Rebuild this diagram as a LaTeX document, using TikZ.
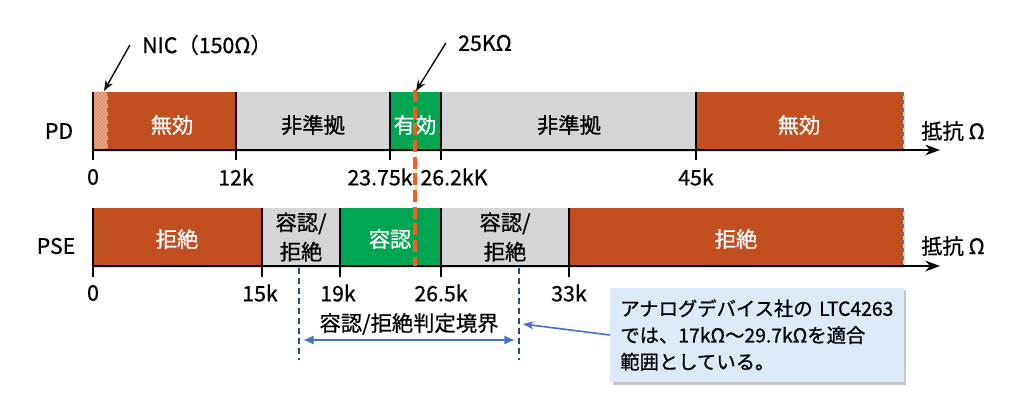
\documentclass[tikz,border=0pt]{standalone}
\usepackage{fontspec}
\setmainfont{Noto Sans CJK JP}[FakeBold=0.7]
\usetikzlibrary{arrows.meta,patterns,shadows}
\definecolor{mukou}{HTML}{C24F1F}
\definecolor{yukou}{HTML}{00A651}
\definecolor{hijun}{HTML}{D5D5D5}
\definecolor{nicfill}{HTML}{F5A57C}
\definecolor{ohm25}{HTML}{FF5A1F}
\definecolor{kyokai}{HTML}{1F4E79}
\definecolor{yajirushi}{HTML}{4472C4}
\definecolor{notefill}{HTML}{DCE9F6}
\tikzset{
  txt/.style={font=\fontsize{16}{22}\selectfont,inner sep=0pt,align=center},
  wtxt/.style={txt,text=white},
  tick/.style={line width=2.2pt},
  axis/.style={line width=2pt,-{Stealth[length=11pt,width=8pt]}},
  edge/.style={black!55,dashed,line width=0.8pt},
  pointer/.style={line width=1pt,-{Stealth[length=8pt,width=6pt]}},
  barshadow/.style={drop shadow={shadow xshift=1.5pt,shadow yshift=-1.5pt,opacity=0.25}}
}

\begin{document}
\begin{tikzpicture}[x=0.75pt,y=-0.75pt]
\useasboundingbox (0,0) rectangle (1024,410);
% PD bar
\fill[hijun,barshadow] (93,92) rectangle (903,150);
\fill[nicfill] (93,92) rectangle (108,150);
\fill[pattern=crosshatch dots,pattern color=black!70] (93,92) rectangle (108,150);
\draw[edge] (108,92) -- (108,150);
\fill[mukou] (108,92) rectangle (236,150);
\fill[yukou] (390,92) rectangle (441,150);
\fill[mukou] (696,92) rectangle (903,150);
\draw[edge] (903,92) -- (903,150);
\node[wtxt] (pdmk1) at (172,125) {無効};
\node[txt] (pdhj1) at (313,125) {非準拠};
\node[wtxt] (pdyk) at (415,125) {有効};
\node[txt] (pdhj2) at (569,125) {非準拠};
\node[wtxt] (pdmk2) at (799,125) {無効};
\draw[axis] (93,150) -- (940,150);
\foreach \x in {93,236,390,441,696} \draw[tick] (\x,92) -- (\x,160);
\node[txt] (pd) at (59,131) {PD};
\node[txt] (pdax) at (953,131) {抵抗 Ω};
\node[txt] (pd0) at (93,177) {0};
\node[txt] (pd12) at (236,177) {12k};
\node[txt] (pd2375) at (380,177) {23.75k};
\node[txt] (pd262) at (454,177) {26.2kK};
\node[txt] (pd45) at (696,177) {45k};
% PSE bar
\fill[hijun,barshadow] (93,208) rectangle (903,266);
\fill[mukou] (93,208) rectangle (262,266);
\fill[yukou] (340,208) rectangle (441,266);
\fill[mukou] (569,208) rectangle (903,266);
\draw[edge] (903,208) -- (903,266);
\node[wtxt] (psekz1) at (177,239) {拒絶};
\node[txt] (psenk1) at (301,237) {容認/\\拒絶};
\node[wtxt] (psenk) at (390,239) {容認};
\node[txt] (psenk2) at (505,237) {容認/\\拒絶};
\node[wtxt] (psekz2) at (736,239) {拒絶};
\draw[axis] (93,266) -- (940,266);
\foreach \x in {93,262,340,441,569} \draw[tick] (\x,208) -- (\x,277);
\node[txt] (pse) at (56,246) {PSE};
\node[txt] (pseax) at (953,246) {抵抗 Ω};
\node[txt] (pse0) at (93,293) {0};
\node[txt] (pse15) at (260,293) {15k};
\node[txt] (pse19) at (338,293) {19k};
\node[txt] (pse265) at (441,293) {26.5k};
\node[txt] (pse33) at (569,293) {33k};
% 25k line and labels
\draw[ohm25,line width=3pt,dash pattern=on 9pt off 3.5pt] (415,90) -- (415,266);
\node[txt] (nic) at (207,45) {NIC（150Ω）};
\coordinate (nictop) at (104,91);
\draw[pointer] (nic.west) ++(-12,0) -- (nictop);
\node[txt] (k25) at (485,43) {25KΩ};
\coordinate (k25top) at (416,91);
\draw[pointer] (k25.west) ++(-12,0) -- (k25top);
% judgement boundary
\draw[kyokai,line width=1.8pt,dash pattern=on 4.5pt off 3pt] (299,268) -- (299,360);
\draw[kyokai,line width=1.8pt,dash pattern=on 4.5pt off 3pt] (519,268) -- (519,360);
\coordinate (bl) at (299,340);
\coordinate (br) at (519,340);
\draw[yajirushi,line width=2pt,{Latex[length=8pt,width=7pt]}-{Latex[length=8pt,width=7pt]},shorten <=3pt,shorten >=3pt] (bl) -- (br);
\node[txt] (kyokai) at (409,324) {容認/拒絶判定境界};
\node[fill=notefill,minimum width=220pt,minimum height=71pt,text width=205pt,align=left,inner sep=0pt,
  font=\fontsize{14.5}{20}\selectfont,drop shadow={shadow xshift=2pt,shadow yshift=-2pt,opacity=0.45}]
  (note) at (757,335) {アナログデバイス社の LTC4263\\では、17kΩ〜29.7kΩを適合\\範囲としている。};
\coordinate (bdtip) at (523,324);
\draw[yajirushi,line width=1.2pt,-{Stealth[length=8pt,width=6pt]}] (note.west) -- (bdtip);
\end{tikzpicture}
\end{document}
